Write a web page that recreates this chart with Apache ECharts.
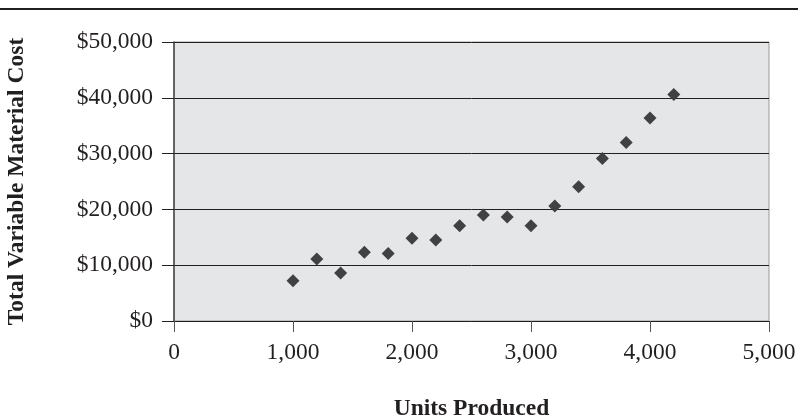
<!DOCTYPE html>
<html>
<head>
<meta charset="utf-8">
<script src="https://cdn.jsdelivr.net/npm/echarts@6/dist/echarts.min.js"></script>
<style>html,body{margin:0;padding:0;background:#fff;}#c{width:798px;height:417px;}</style>
</head>
<body>
<div id="c"></div>
<script>
const unitsProduced = [1000, 1200, 1400, 1600, 1800, 2000, 2200, 2400, 2600, 2800, 3000, 3200, 3400, 3600, 3800, 4000, 4200];
const materialCost = [7200, 11100, 8600, 12300, 12100, 14850, 14500, 17050, 19000, 18650, 17050, 20600, 24050, 29100, 32000, 36400, 40600];
const xTitle = 'Units Produced';
const yTitle = 'Total Variable Material Cost';

const chart = echarts.init(document.getElementById('c'));
const font = 'Liberation Serif';
chart.setOption({
  animation: false,
  backgroundColor: '#ffffff',
  graphic: [{
    type: 'rect', left: 0, top: 8, shape: {x: 0, y: 0, width: 798, height: 2},
    style: {fill: '#231f20'}
  }],
  grid: {
    left: 174, top: 42, width: 595, height: 279,
    outerBoundsMode: 'none', containLabel: false,
    show: true, backgroundColor: '#e5e6e8', borderColor: '#999999', borderWidth: 1
  },
  xAxis: {
    type: 'value', min: 0, max: 5000, interval: 1000,
    name: xTitle, nameLocation: 'middle', nameGap: 76,
    nameTextStyle: {fontFamily: font, fontWeight: 'bold', fontSize: 23.5, color: '#231f20'},
    axisLine: {show: true, onZero: false, lineStyle: {color: '#231f20', width: 1}},
    axisTick: {show: true, length: 11, lineStyle: {color: '#555'}},
    axisLabel: {fontFamily: font, fontSize: 23.5, color: '#231f20', margin: 20,
      formatter: v => v.toLocaleString('en-US')},
    splitLine: {show: false}
  },
  yAxis: {
    type: 'value', min: 0, max: 50000, interval: 10000,
    name: yTitle, nameLocation: 'middle', nameGap: 145, nameRotate: 90,
    nameTextStyle: {fontFamily: font, fontWeight: 'bold', fontSize: 23.5, color: '#231f20'},
    axisLine: {show: true, onZero: false, lineStyle: {color: '#444', width: 1.5}},
    axisTick: {show: true, length: 12, lineStyle: {color: '#231f20'}},
    axisLabel: {fontFamily: font, fontSize: 23.5, color: '#231f20', margin: 21,
      formatter: v => '$' + v.toLocaleString('en-US')},
    splitLine: {show: true, lineStyle: {color: '#231f20', width: 1}}
  },
  series: [{
    type: 'scatter',
    symbol: 'diamond',
    symbolSize: 13,
    itemStyle: {color: '#414042', opacity: 1},
    data: unitsProduced.map((u, i) => [u, materialCost[i]])
  }]
});
</script>
</body>
</html>
